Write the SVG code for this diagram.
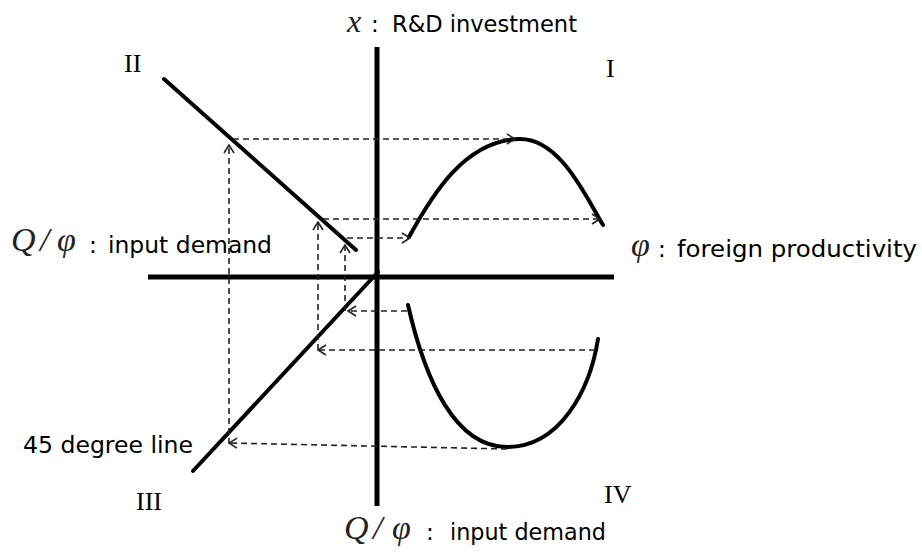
<svg xmlns="http://www.w3.org/2000/svg" width="922" height="554" viewBox="0 0 922 554">
<style>
.axis{stroke:#000;stroke-width:5;fill:none}
.curve{stroke:#000;stroke-width:4;fill:none;stroke-linecap:round}
.dash{stroke:#222;stroke-width:1.6;fill:none;stroke-dasharray:6 4}
.lbl{font-family:"DejaVu Sans",Verdana,sans-serif;font-size:23px;fill:#000}
.math{font-family:"Liberation Serif","Times New Roman",serif;font-style:italic;fill:#222}
.rom{font-family:"Liberation Serif","Times New Roman",serif;font-size:26px;fill:#000}
</style>
<defs>
<marker id="arr" viewBox="0 0 10 12" refX="9" refY="6" markerWidth="10" markerHeight="12" markerUnits="userSpaceOnUse" orient="auto">
<path d="M1,1 L9,6 L1,11" fill="none" stroke="#222" stroke-width="1.6"/>
</marker>
</defs>
<rect width="922" height="554" fill="#fff"/>
<g id="axes">
<line class="axis" x1="377" y1="47" x2="377" y2="506"/>
<line class="axis" x1="148" y1="277" x2="614" y2="277"/>
</g>
<g id="line-II"><line class="curve" x1="164" y1="79" x2="356" y2="250"/></g>
<g id="line-45"><line class="curve" x1="378" y1="272" x2="193" y2="471"/></g>
<g id="curve-I"><path class="curve" d="M409,237 C432,195 465,140 520,139 C560,139 585,195 603,225"/></g>
<g id="curve-IV"><path class="curve" d="M408,305 C425,380 455,447 507,447 C560,447 590,390 598,339"/></g>
<g id="connectors">
<path class="dash" marker-end="url(#arr)" d="M233,139 H515"/>
<path class="dash" marker-end="url(#arr)" d="M229,444 V145"/>
<path class="dash" marker-end="url(#arr)" d="M323,219 H600"/>
<path class="dash" marker-end="url(#arr)" d="M318,350 V222"/>
<path class="dash" marker-end="url(#arr)" d="M347,238 H410"/>
<path class="dash" marker-end="url(#arr)" d="M345,311 V245"/>
<path class="dash" marker-end="url(#arr)" d="M407,311 H348"/>
<path class="dash" marker-end="url(#arr)" d="M595,350 H318"/>
<path class="dash" marker-end="url(#arr)" d="M507,449 L229,443"/>
</g>
<g id="label-top">
<text class="math" x="347" y="32" font-size="32">x</text>
<text class="lbl" x="371" y="32">:</text>
<text class="lbl" x="392" y="32" textLength="185" lengthAdjust="spacingAndGlyphs">R&amp;D investment</text>
</g>
<g id="label-left">
<text class="math" x="11" y="251" font-size="34">Q</text>
<text class="math" x="40" y="251" font-size="34">/</text>
<text class="math" x="57" y="251" font-size="34">φ</text>
<text class="lbl" x="89" y="253">:</text>
<text class="lbl" x="108" y="253" textLength="164" lengthAdjust="spacingAndGlyphs">input demand</text>
</g>
<g id="label-right">
<text class="math" x="631" y="256" font-size="34">φ</text>
<text class="lbl" x="658" y="257">:</text>
<text class="lbl" x="677" y="257" textLength="240" lengthAdjust="spacingAndGlyphs">foreign productivity</text>
</g>
<g id="label-bottom">
<text class="math" x="344" y="539" font-size="34">Q</text>
<text class="math" x="373" y="539" font-size="34">/</text>
<text class="math" x="392" y="539" font-size="34">φ</text>
<text class="lbl" x="426" y="540">:</text>
<text class="lbl" x="450" y="540" textLength="156" lengthAdjust="spacingAndGlyphs">input demand</text>
</g>
<g id="label-45">
<text class="lbl" x="23" y="453" textLength="170" lengthAdjust="spacingAndGlyphs">45 degree line</text>
</g>
<g id="quadrants">
<text class="rom" x="124" y="72">II</text>
<text class="rom" x="606" y="77">I</text>
<text class="rom" x="136" y="510">III</text>
<text class="rom" x="604" y="503">IV</text>
</g>
</svg>
